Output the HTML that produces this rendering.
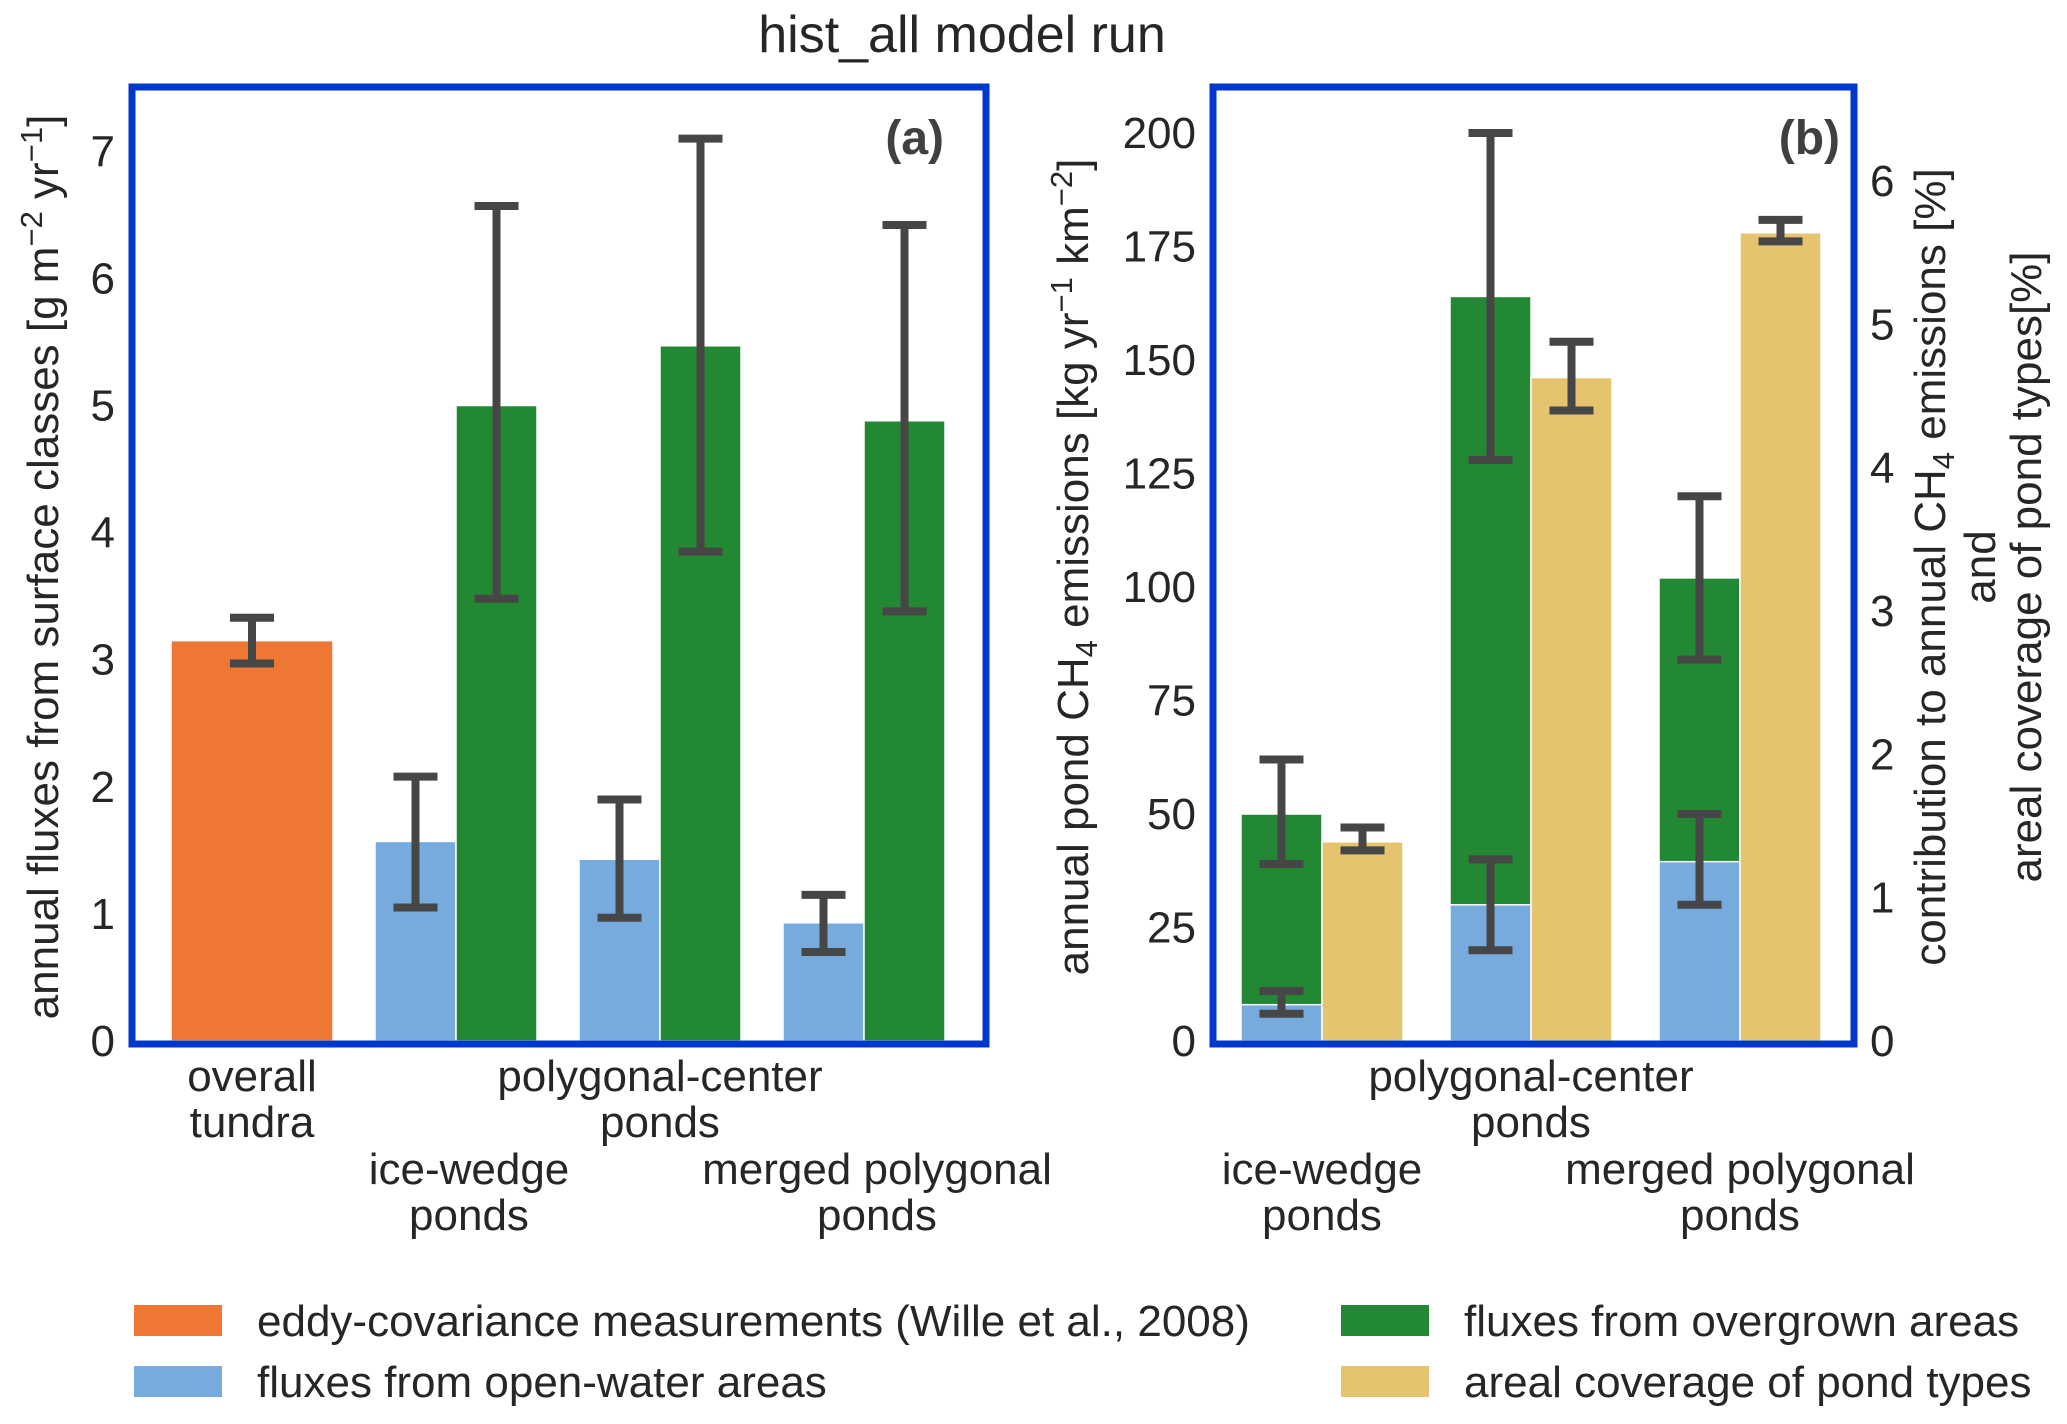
<!DOCTYPE html>
<html><head><meta charset="utf-8">
<style>
html,body{margin:0;padding:0;background:#fff;}
svg{display:block;font-family:"Liberation Sans",Arial,sans-serif;}
</style></head>
<body>
<svg id="fig" width="2067" height="1424" viewBox="0 0 2067 1424">
<text x="962" y="52" font-size="52" fill="#262626" text-anchor="middle">hist_all model run</text>
<g id="pa"></g>
<g id="pb"></g>
<g id="legend"></g>
</svg>
<script>
// ---------- Panel (a) data ----------
const aCats = ["overall tundra","ice-wedge ponds","polygonal-center ponds","merged polygonal ponds"];
const aOrange = [3.15];
const aOrangeErr = [[2.97,3.33]];
const aBlue = [1.57,1.43,0.93];
const aBlueErr = [[1.05,2.08],[0.97,1.90],[0.70,1.15]];
const aGreen = [5.00,5.47,4.88];
const aGreenErr = [[3.48,6.57],[3.85,7.10],[3.38,6.42]];
const aTicks = [0,1,2,3,4,5,6,7];
// ---------- Panel (b) data ----------
const bCats = ["ice-wedge ponds","polygonal-center ponds","merged polygonal ponds"];
const bBlue = [8,30,39.5];
const bBlueErr = [[6,11],[20,40],[30,50]];
const bGreen = [50,164,102];
const bGreenErr = [[39,62],[128,200],[84,120]];
const bYellow = [1.39,4.63,5.64];
const bYellowErr = [[1.33,1.49],[4.40,4.88],[5.58,5.73]];
const bTicksL = [0,25,50,75,100,125,150,175,200];
const bTicksR = [0,1,2,3,4,5,6];

const NS="http://www.w3.org/2000/svg";
function mk(tag,attrs,parent,txt){const e=document.createElementNS(NS,tag);for(const k in attrs)e.setAttribute(k,attrs[k]);if(txt!==undefined)e.textContent=txt;parent.appendChild(e);return e;}
const ORANGE="#ee7733",BLUE="#77aadd",GREEN="#228833",YELLOW="#e6c36e",ERR="#464646",FRAME="#0037cc",TXT="#262626";
const FS=44;

// axis functions
const ya = v => 1041 - v*127.1;
const ybL = v => 1041 - v*4.54;
const ybR = v => 1041 - v*143.3;

function errbar(g,x,lo,hi,yf,name){
  const e=mk('g',{},g);
  
  
  mk('line',{x1:x,x2:x,y1:yf(lo),y2:yf(hi),stroke:ERR,'stroke-width':8},e);
  mk('line',{x1:x-22,x2:x+22,y1:yf(lo),y2:yf(lo),stroke:ERR,'stroke-width':8},e);
  mk('line',{x1:x-22,x2:x+22,y1:yf(hi),y2:yf(hi),stroke:ERR,'stroke-width':8},e);
}
function bar(g,x,w,v,yf,fill,name){
  const r=mk('rect',{x:x,y:yf(v),width:w,height:yf(0)-yf(v),fill:fill,stroke:'#fff','stroke-width':1.5},g);
  
  
}

// ---------- Panel a ----------
const pa=document.getElementById('pa');
const aCenter = i => 252 + i*204;
const bw=81;
bar(pa,aCenter(0)-81,162,aOrange[0],ya,ORANGE,'bar-overall-tundra');
errbar(pa,aCenter(0),aOrangeErr[0][0],aOrangeErr[0][1],ya,'errorbar-overall-tundra');
for(let i=0;i<aBlue.length;i++){
  const c=aCenter(i+1);
  bar(pa,c-bw,bw,aBlue[i],ya,BLUE,'bar-open-water-'+(i+1));
  bar(pa,c,bw,aGreen[i],ya,GREEN,'bar-overgrown-'+(i+1));
  errbar(pa,c-bw/2,aBlueErr[i][0],aBlueErr[i][1],ya,'errorbar-open-water-'+(i+1));
  errbar(pa,c+bw/2,aGreenErr[i][0],aGreenErr[i][1],ya,'errorbar-overgrown-'+(i+1));
}
let fr=mk('rect',{x:132,y:87,width:854,height:957,fill:'none',stroke:FRAME,'stroke-width':7},pa);

aTicks.forEach(t=>{const e=mk('text',{x:115,y:ya(t)+15,'font-size':FS,fill:TXT,'text-anchor':'end'},pa,t);
  });
let yl=mk('text',{transform:'translate(58,567) rotate(-90)','font-size':FS,fill:TXT,'text-anchor':'middle'},pa);

yl.innerHTML='annual fluxes from surface classes [g m<tspan dy="-16" font-size="31">−2</tspan><tspan dy="16"> yr</tspan><tspan dy="-16" font-size="31">−1</tspan><tspan dy="16">]</tspan>';
let pl=mk('text',{x:944,y:154,'font-size':48,'font-weight':'bold',fill:'#404040','text-anchor':'end'},pa,'(a)');

// x labels a
const aLabelRows=[[0,1091,0],[2,1091,0],[1,1184,13],[3,1184,13]];
aLabelRows.forEach(([i,y,dx])=>{
  const words=aCats[i].split(' ');const last=words.pop();
  const cx=aCenter(i)+dx;
  const e=mk('text',{x:cx,y:y,'font-size':FS,fill:TXT,'text-anchor':'middle'},pa);
  
  mk('tspan',{x:cx,dy:0},e,words.join(' '));
  mk('tspan',{x:cx,dy:46},e,last);
});

// ---------- Panel b ----------
const pb=document.getElementById('pb');
const bCenter = i => 1322 + i*209;
for(let i=0;i<bGreen.length;i++){
  const c=bCenter(i);
  bar(pb,c-bw,bw,bGreen[i],ybL,GREEN,'bar-overgrown-b-'+(i+1));
  bar(pb,c-bw,bw,bBlue[i],ybL,BLUE,'bar-open-water-b-'+(i+1));
  bar(pb,c,bw,bYellow[i],ybR,YELLOW,'bar-areal-coverage-'+(i+1));
  errbar(pb,c-bw/2,bGreenErr[i][0],bGreenErr[i][1],ybL,'errorbar-overgrown-b-'+(i+1));
  errbar(pb,c-bw/2,bBlueErr[i][0],bBlueErr[i][1],ybL,'errorbar-open-water-b-'+(i+1));
  errbar(pb,c+bw/2,bYellowErr[i][0],bYellowErr[i][1],ybR,'errorbar-areal-coverage-'+(i+1));
}
fr=mk('rect',{x:1213,y:87,width:641,height:957,fill:'none',stroke:FRAME,'stroke-width':7},pb);

bTicksL.forEach(t=>{const e=mk('text',{x:1196,y:ybL(t)+15,'font-size':FS,fill:TXT,'text-anchor':'end'},pb,t);
  });
bTicksR.forEach(t=>{const e=mk('text',{x:1870,y:ybR(t)+15,'font-size':FS,fill:TXT,'text-anchor':'start'},pb,t);
  });
yl=mk('text',{transform:'translate(1088,567) rotate(-90)','font-size':FS,fill:TXT,'text-anchor':'middle'},pb);

yl.innerHTML='annual pond CH<tspan dy="9" font-size="31">4</tspan><tspan dy="-9"> emissions [kg yr</tspan><tspan dy="-16" font-size="31">−1</tspan><tspan dy="16"> km</tspan><tspan dy="-16" font-size="31">−2</tspan><tspan dy="16">]</tspan>';
yl=mk('text',{transform:'translate(1945,567) rotate(-90)','font-size':FS,fill:TXT,'text-anchor':'middle'},pb);

yl.innerHTML='contribution to annual CH<tspan dy="9" font-size="31">4</tspan><tspan dy="-9"> emissions [%]</tspan>';
yl=mk('text',{transform:'translate(1995,567) rotate(-90)','font-size':FS,fill:TXT,'text-anchor':'middle'},pb,'and');

yl=mk('text',{transform:'translate(2041,567) rotate(-90)','font-size':FS,fill:TXT,'text-anchor':'middle'},pb,'areal coverage of pond types[%]');

pl=mk('text',{x:1840,y:154,'font-size':48,'font-weight':'bold',fill:'#404040','text-anchor':'end'},pb,'(b)');

const bLabelRows=[[1,1091],[0,1184],[2,1184]];
bLabelRows.forEach(([i,y])=>{
  const words=bCats[i].split(' ');const last=words.pop();
  const e=mk('text',{x:bCenter(i),y:y,'font-size':FS,fill:TXT,'text-anchor':'middle'},pb);
  
  mk('tspan',{x:bCenter(i),dy:0},e,words.join(' '));
  mk('tspan',{x:bCenter(i),dy:46},e,last);
});

// ---------- Legend ----------
const lg=document.getElementById('legend');
const legItems=[
 [134,1305,ORANGE,'eddy-covariance measurements (Wille et al., 2008)','legend-entry-eddy-covariance'],
 [134,1366,BLUE,'fluxes from open-water areas','legend-entry-open-water'],
 [1341,1305,GREEN,'fluxes from overgrown areas','legend-entry-overgrown'],
 [1341,1366,YELLOW,'areal coverage of pond types','legend-entry-areal-coverage']];
legItems.forEach(([x,y,c,t,n])=>{
  const g=mk('g',{},lg);
  
  
  mk('rect',{x:x,y:y,width:88,height:31,fill:c},g);
  mk('text',{x:x+123,y:y+31,'font-size':FS,fill:TXT},g,t);
});
</script>
</body></html>
